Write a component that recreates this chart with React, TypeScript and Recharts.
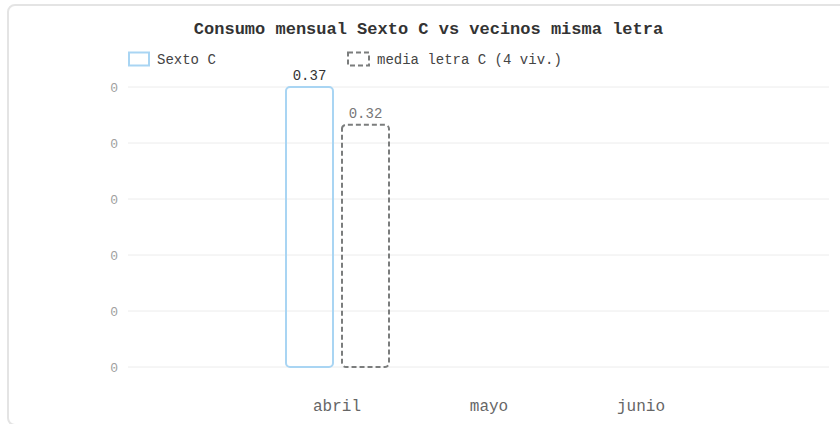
import React from "react";
import { BarChart, Bar, XAxis, YAxis, CartesianGrid, LabelList } from "recharts";

const months = ["abril", "mayo", "junio"];
const sextoC: (number | null)[] = [0.37, null, null];
const mediaLetraC: (number | null)[] = [0.32, null, null];
const yTicks = [0, 0.074, 0.148, 0.222, 0.296, 0.37];
const titleText = "Consumo mensual Sexto C vs vecinos misma letra";
const legendLabels = ["Sexto C", "media letra C (4 viv.)"];

const data = months.map((m, i) => ({ month: m, sexto: sextoC[i], media: mediaLetraC[i] }));

const FONT = '"Liberation Mono", "DejaVu Sans Mono", monospace';
const BLUE = "#a9d5f3";
const GRAY = "#7b7d7d";

export default function App() {
  return (
    <div style={{ position: "absolute", left: 0, top: 0, width: 840, height: 424, overflow: "hidden", background: "#fff" }}>
      <div
        style={{
          position: "absolute",
          left: 7,
          top: 4,
          width: 850,
          height: 422,
          border: "2px solid #e4e4e4",
          borderRadius: 8,
          boxSizing: "border-box",
        }}
      />
      <div style={{ position: "absolute", left: 0, top: 0 }}>
        <BarChart
          width={840}
          height={424}
          data={data}
          margin={{ top: 87, right: 11, bottom: 0, left: 88 }}
          barSize={47}
          barGap={9}
        >
          <CartesianGrid vertical={false} stroke="#ececec" strokeWidth={1} />
          <XAxis
            dataKey="month"
            axisLine={false}
            tickLine={false}
            tickSize={0}
            tickMargin={33}
            height={57}
            padding={{ left: 133, right: 112 }}
            tick={{ fill: "#666", fontSize: 16, fontFamily: FONT }}
          />
          <YAxis
            width={40}
            domain={[0, 0.37]}
            ticks={yTicks}
            axisLine={false}
            tickLine={false}
            tickSize={0}
            tickMargin={10}
            tickFormatter={(v: number) => v.toFixed(0)}
            tick={{ fill: "#a0a0a0", fontSize: 13, fontFamily: FONT }}
          />
          <Bar
            dataKey="sexto"
            fill="#ffffff"
            fillOpacity={0}
            stroke={BLUE}
            strokeWidth={2}
            radius={4}
            isAnimationActive={false}
          >
            <LabelList
              dataKey="sexto"
              position="top"
              offset={7}
              fill="#333"
              style={{ fontSize: 14, fontFamily: FONT }}
            />
          </Bar>
          <Bar
            dataKey="media"
            fill="#ffffff"
            fillOpacity={0}
            stroke={GRAY}
            strokeWidth={2}
            strokeDasharray="5 3"
            radius={4}
            isAnimationActive={false}
          >
            <LabelList
              dataKey="media"
              position="top"
              offset={7}
              fill="#777"
              style={{ fontSize: 14, fontFamily: FONT }}
            />
          </Bar>
        </BarChart>
      </div>
      <svg width={840} height={80} style={{ position: "absolute", left: 0, top: 0 }}>
        <text
          x={428.5}
          y={34}
          textAnchor="middle"
          fontFamily={FONT}
          fontSize={17}
          fontWeight="bold"
          fill="#333"
        >
          {titleText}
        </text>
        <rect x={129} y={52.5} width={20} height={13} fill="none" stroke={BLUE} strokeWidth={2} />
        <text x={157} y={64} fontFamily={FONT} fontSize={14} fill="#444">
          {legendLabels[0]}
        </text>
        <rect
          x={348}
          y={52.5}
          width={21}
          height={13}
          fill="none"
          stroke={GRAY}
          strokeWidth={2}
          strokeDasharray="5 3"
        />
        <text x={377} y={64} fontFamily={FONT} fontSize={14} fill="#444">
          {legendLabels[1]}
        </text>
      </svg>
    </div>
  );
}
